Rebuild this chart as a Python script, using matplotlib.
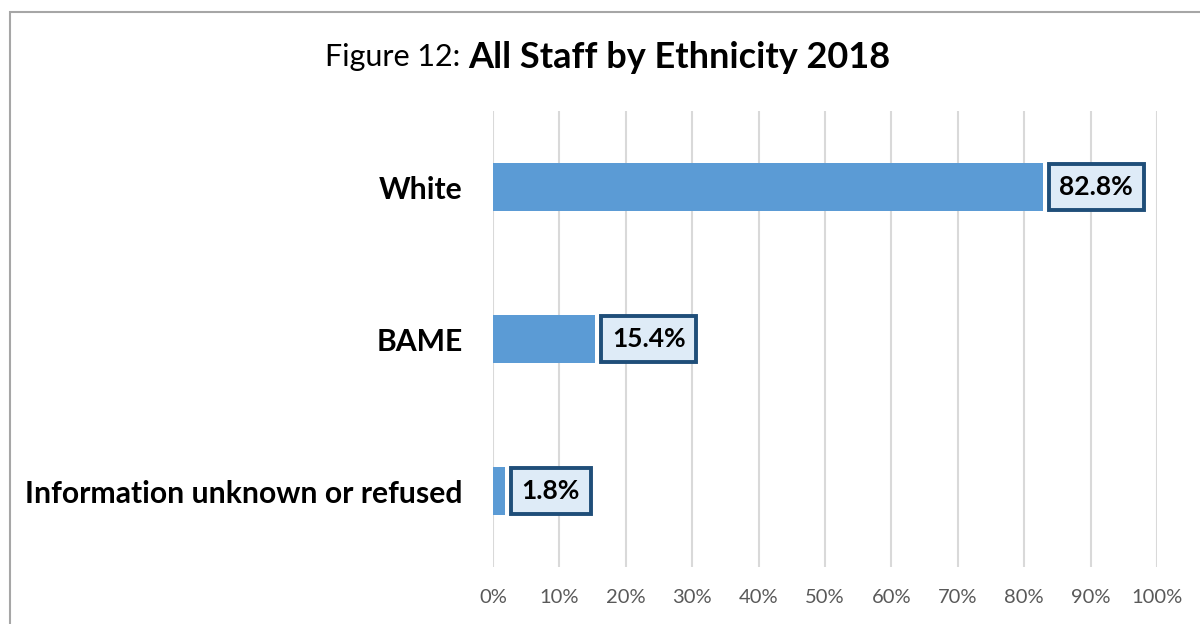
import matplotlib

matplotlib.use("Agg")
import matplotlib.pyplot as plt
from matplotlib.patches import Rectangle

# chart data
categories = ["White", "BAME", "Information unknown or refused"]
shares = [82.8, 15.4, 1.8]
ticks = [0, 10, 20, 30, 40, 50, 60, 70, 80, 90, 100]
tick_labels = [f"{t}%" for t in ticks]

plt.rcParams["font.family"] = ["Lato", "DejaVu Sans"]

fig = plt.figure(figsize=(12, 6.24), dpi=100)
fig.patches.append(
    Rectangle((10 / 1200, -0.1), 1.2, 1 - 12 / 624 + 0.1, transform=fig.transFigure,
              fill=False, edgecolor="#a6a6a6", linewidth=1.5)
)

ax = fig.add_axes([493 / 1200, 57 / 624, 664 / 1200, 456 / 624])
y = list(range(len(categories)))
ax.barh(y, shares, height=0.32, color="#5b9bd5", zorder=2)

for yi, v in zip(y, shares):
    ax.annotate(f"{v:.1f}%", xy=(v, yi), xytext=(12, 0), textcoords="offset points",
                ha="left", va="center", fontsize=19, fontweight="bold", color="black",
                bbox=dict(boxstyle="square,pad=0.4", facecolor="#deebf7",
                          edgecolor="#1f4e79", linewidth=2.8), zorder=3)

ax.set_xlim(0, 100)
ax.set_ylim(len(categories) - 0.5, -0.5)
ax.set_xticks(ticks)
ax.set_xticklabels(tick_labels, fontsize=14.5, color="#595959")
ax.set_yticks(y)
ax.set_yticklabels(categories, fontsize=21.7, fontweight="bold", color="black")
ax.tick_params(axis="both", length=0)
ax.tick_params(axis="x", pad=16)
ax.tick_params(axis="y", pad=22)
ax.grid(axis="x", color="#d9d9d9", linewidth=1.5, zorder=0)
for s in ax.spines.values():
    s.set_visible(False)

fig.text(460 / 1200, 1 - 57 / 624, "Figure 12:", ha="right", va="center", fontsize=22)
fig.text(468 / 1200, 1 - 57 / 624, "All Staff by Ethnicity 2018", ha="left", va="center",
         fontsize=26, fontweight="bold")

fig.savefig("out.png", dpi=100)
